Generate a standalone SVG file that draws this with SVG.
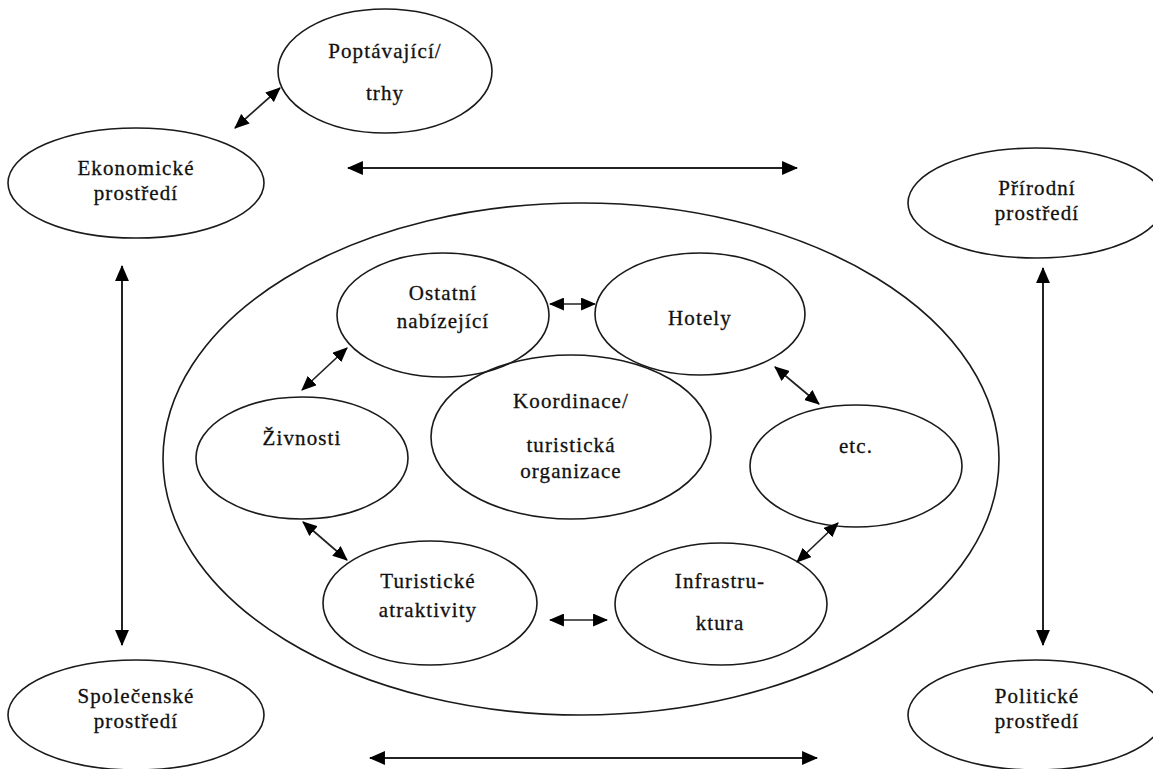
<svg xmlns="http://www.w3.org/2000/svg" width="1153" height="769" viewBox="0 0 1153 769">
<style>
.n ellipse{fill:none;stroke:#1a1a1a;stroke-width:1.6}
.n text{font-family:"Liberation Serif","Times New Roman",serif;font-size:21px;fill:#111;stroke:#111;stroke-width:0.3;text-anchor:middle;letter-spacing:1.1px}
.c line{stroke:#222;stroke-width:2;marker-start:url(#ah);marker-end:url(#ah)}
.c line.s{stroke-width:1.7;marker-start:url(#ahs);marker-end:url(#ahs)}
</style>
<defs>
<marker id="ah" markerUnits="userSpaceOnUse" markerWidth="16" markerHeight="14" viewBox="0 0 15 13" refX="14" refY="6.5" orient="auto-start-reverse"><path d="M0,0 L15,6.5 L0,13 Z" fill="#000"/></marker>
<marker id="ahs" markerUnits="userSpaceOnUse" markerWidth="15" markerHeight="13" viewBox="0 0 14 12" refX="13" refY="6" orient="auto-start-reverse"><path d="M0,0 L14,6 L0,12 Z" fill="#000"/></marker>
</defs>
<rect width="1153" height="769" fill="#fff"/>
<g id="big" class="n"><ellipse cx="581" cy="459" rx="418" ry="256"/></g>
<g id="poptavajici" class="n"><ellipse cx="385" cy="71" rx="107" ry="62"/><text x="385" y="58">Poptávající/</text><text x="385" y="100">trhy</text></g>
<g id="ekonomicke" class="n"><ellipse cx="136" cy="183" rx="128" ry="55"/><text x="136" y="175">Ekonomické</text><text x="136" y="200">prostředí</text></g>
<g id="prirodni" class="n"><ellipse cx="1036" cy="203" rx="128" ry="55"/><text x="1037" y="195">Přírodní</text><text x="1037" y="220">prostředí</text></g>
<g id="spolecenske" class="n"><ellipse cx="136" cy="715" rx="128" ry="55"/><text x="136" y="703">Společenské</text><text x="136" y="728">prostředí</text></g>
<g id="politicke" class="n"><ellipse cx="1036" cy="715" rx="128" ry="55"/><text x="1037" y="703">Politické</text><text x="1037" y="728">prostředí</text></g>
<g id="ostatni" class="n"><ellipse cx="443" cy="315" rx="106" ry="62"/><text x="443" y="300">Ostatní</text><text x="443" y="328">nabízející</text></g>
<g id="hotely" class="n"><ellipse cx="700" cy="314" rx="105" ry="61"/><text x="700" y="325">Hotely</text></g>
<g id="koordinace" class="n"><ellipse cx="571" cy="437" rx="140" ry="82"/><text x="571" y="408">Koordinace/</text><text x="571" y="452">turistická</text><text x="571" y="478">organizace</text></g>
<g id="zivnosti" class="n"><ellipse cx="302" cy="458" rx="106" ry="61"/><text x="302" y="445">Živnosti</text></g>
<g id="etc" class="n"><ellipse cx="856" cy="466" rx="106" ry="61"/><text x="856" y="453">etc.</text></g>
<g id="turisticke" class="n"><ellipse cx="430" cy="603" rx="107" ry="62"/><text x="428" y="588">Turistické</text><text x="428" y="617">atraktivity</text></g>
<g id="infrastruktura" class="n"><ellipse cx="721" cy="604" rx="106" ry="61"/><text x="720" y="588">Infrastru-</text><text x="720" y="630">ktura</text></g>
<g id="connectors" class="c">
<line class="s" x1="235" y1="128" x2="280" y2="88"/>
<line x1="348" y1="168" x2="797" y2="168"/>
<line x1="122" y1="266" x2="122" y2="645"/>
<line x1="1043" y1="268" x2="1043" y2="645"/>
<line x1="370" y1="758" x2="817" y2="758"/>
<line class="s" x1="550" y1="304" x2="595" y2="304"/>
<line class="s" x1="347" y1="348" x2="302" y2="390"/>
<line class="s" x1="775" y1="367" x2="819" y2="404"/>
<line class="s" x1="303" y1="522" x2="347" y2="560"/>
<line class="s" x1="838" y1="523" x2="797" y2="562"/>
<line class="s" x1="550" y1="620" x2="607" y2="620"/>
</g>
</svg>
